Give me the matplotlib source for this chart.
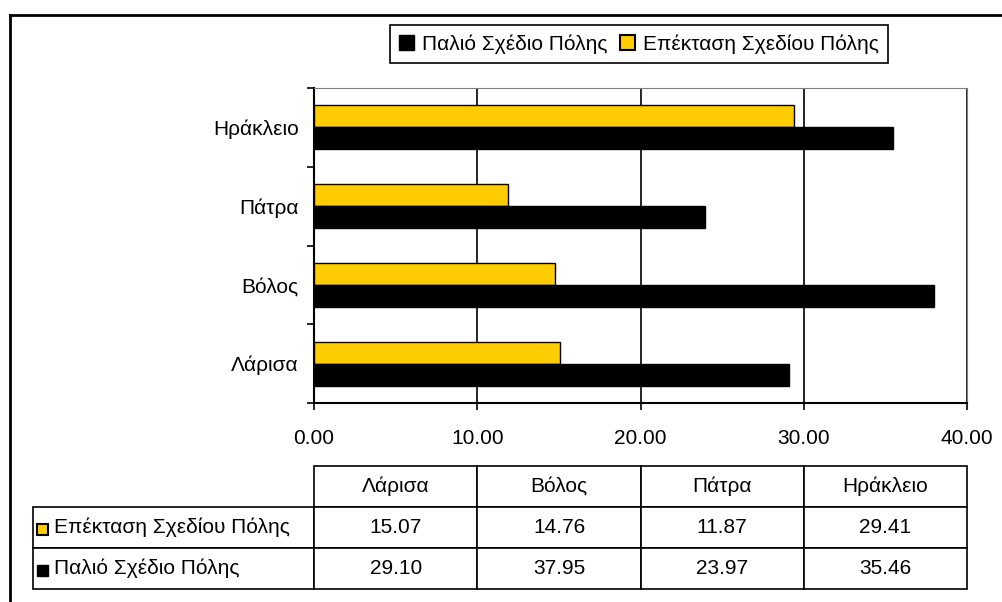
import numpy as np
import matplotlib.pyplot as plt
from matplotlib.patches import Patch, Rectangle
from matplotlib.lines import Line2D

plt.rcParams['font.family'] = ['Liberation Sans', 'DejaVu Sans']
plt.rcParams['font.size'] = 15

#----Donnees
poleis = ["Λάρισα", "Βόλος", "Πάτρα", "Ηράκλειο"]
epektasi = [15.07, 14.76, 11.87, 29.41]
palio = [29.10, 37.95, 23.97, 35.46]
seira_palio = "Παλιό Σχέδιο Πόλης"
seira_epektasi = "Επέκταση Σχεδίου Πόλης"
xticks = [0, 10, 20, 30, 40]

kitrino = "#FFCC00"
mavro = "#000000"

fig = plt.figure(figsize=(10.02, 6.02), dpi=100)

#----Cadre exterieur (coupe a droite et en bas)
fig.add_artist(Line2D([10/1002, 10/1002], [0, 1-15/602], color="k", lw=2, transform=fig.transFigure))
fig.add_artist(Line2D([10/1002, 1], [1-15/602, 1-15/602], color="k", lw=2, transform=fig.transFigure))

#----Barres
ax = fig.add_axes([314/1002, 1-403/602, 653/1002, 315/602])
y = np.arange(len(poleis))
h = 0.28
ax.barh(y+h/2, epektasi, height=h, color=kitrino, edgecolor="k", lw=1, zorder=3)
ax.barh(y-h/2, palio, height=h, color=mavro, edgecolor="k", lw=1, zorder=3)

ax.set_xlim(0, 40)
ax.set_ylim(-0.5, len(poleis)-0.5)
ax.set_xticks(xticks)
ax.set_xticklabels(["%.2f" % v for v in xticks])
ax.set_yticks(np.arange(-0.5, len(poleis), 1))
ax.set_yticklabels([])
ax.set_yticks(y, minor=True)
ax.set_yticklabels(poleis, minor=True)
ax.tick_params(axis="y", which="minor", length=0, pad=11)
ax.tick_params(axis="y", which="major", length=5, width=1.2, direction="out")
ax.tick_params(axis="x", length=5, width=1.2, direction="out", pad=14)
ax.grid(axis="x", color="k", lw=1.2, zorder=1)
ax.spines["top"].set_color("#808080")
ax.spines["right"].set_color("#808080")
ax.spines["left"].set_linewidth(1.5)
ax.spines["bottom"].set_linewidth(1.5)

#----Legende
handles = [Patch(facecolor=mavro, edgecolor="k"), Patch(facecolor=kitrino, edgecolor="k", lw=1.5)]
leg = fig.legend(handles, [seira_palio, seira_epektasi], ncol=2, loc="center",
                 bbox_to_anchor=(639/1002, 1-44/602), frameon=True, fancybox=False,
                 edgecolor="k", framealpha=1, handlelength=0.7, handleheight=0.7,
                 handletextpad=0.4, columnspacing=0.6, borderpad=0.45, borderaxespad=0)
leg.get_frame().set_linewidth(1.2)

#----Tableau
tax = fig.add_axes([33/1002, 1-589/602, 934/1002, 123/602])
tax.axis("off")
cell_text = [[""] + poleis,
             [seira_epektasi] + ["%.2f" % v for v in epektasi],
             [seira_palio] + ["%.2f" % v for v in palio]]
widths = np.array([281, 163, 163, 163, 163]) / 934
tab = tax.table(cellText=cell_text, colWidths=widths, cellLoc="center", bbox=[0, 0, 1, 1])
tab.auto_set_font_size(False)
tab.set_fontsize(15)
for (r, c), cell in tab.get_celld().items():
    cell.set_linewidth(1.2)
    if c == 0:
        cell.get_text().set_horizontalalignment("left")
        cell.PAD = 0.075
        if r == 0:
            cell.visible_edges = ""

#----Carres de legende dans le tableau
fig.add_artist(Rectangle((37/1002, 1-535/602), 11/1002, 11/602, facecolor=kitrino, edgecolor="k", lw=1.5, transform=fig.transFigure))
fig.add_artist(Rectangle((37/1002, 1-576/602), 11/1002, 11/602, facecolor=mavro, edgecolor="k", lw=1, transform=fig.transFigure))

plt.savefig("out.png", dpi=100)
